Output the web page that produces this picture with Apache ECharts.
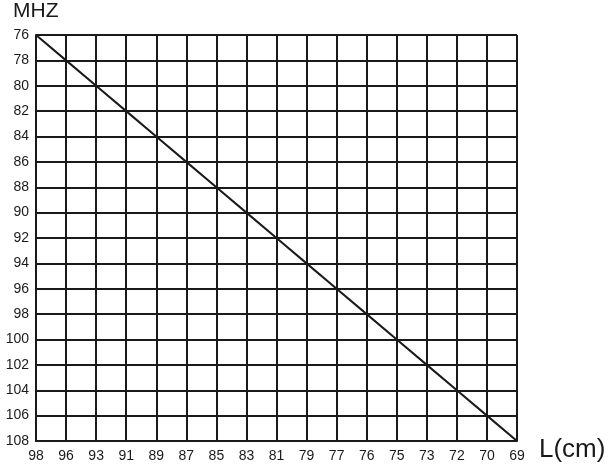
<!DOCTYPE html>
<html><head><meta charset="utf-8">
<script src="https://cdn.jsdelivr.net/npm/echarts@6/dist/echarts.min.js"></script>
<style>html,body{margin:0;padding:0;background:#fff}#c{width:612px;height:468px}</style>
</head><body><div id="c"></div>
<script>
const lengthLabels = ['98','96','93','91','89','87','85','83','81','79','77','76','75','73','72','70','69'];
const freqValues = [76,78,80,82,84,86,88,90,92,94,96,98,100,102,104,106,108];
const yMin = 76, yMax = 108, yStep = 2;
const ink = '#1a1a1a';
const chart = echarts.init(document.getElementById('c'), null, {renderer:'canvas'});
chart.setOption({
  animation:false,
  backgroundColor:'#fff',
  grid:{left:36,top:35,right:95,bottom:27,containLabel:false},
  xAxis:{
    type:'category', data:lengthLabels, boundaryGap:false,
    axisLine:{show:true,lineStyle:{color:ink,width:2}},
    axisTick:{show:false},
    axisLabel:{color:ink,fontSize:14,fontFamily:'Liberation Sans, Arial',margin:8,interval:0},
    splitLine:{show:true,lineStyle:{color:ink,width:2}}
  },
  yAxis:{
    type:'value', min:yMin, max:yMax, interval:yStep, inverse:true,
    axisLine:{show:true,lineStyle:{color:ink,width:2}},
    axisTick:{show:false},
    axisLabel:{color:ink,fontSize:14,fontFamily:'Liberation Sans, Arial',margin:7},
    splitLine:{show:true,lineStyle:{color:ink,width:2}}
  },
  series:[{
    type:'line', data:freqValues, showSymbol:false,
    lineStyle:{color:ink,width:2}
  }],
  graphic:[
    {type:'text',left:13,top:1,style:{text:'MHZ',fill:ink,font:'21px Liberation Sans, Arial'}},
    {type:'text',left:539,top:437,style:{text:'L(cm)',fill:ink,font:'26px Liberation Sans, Arial'}}
  ]
});
</script></body></html>
